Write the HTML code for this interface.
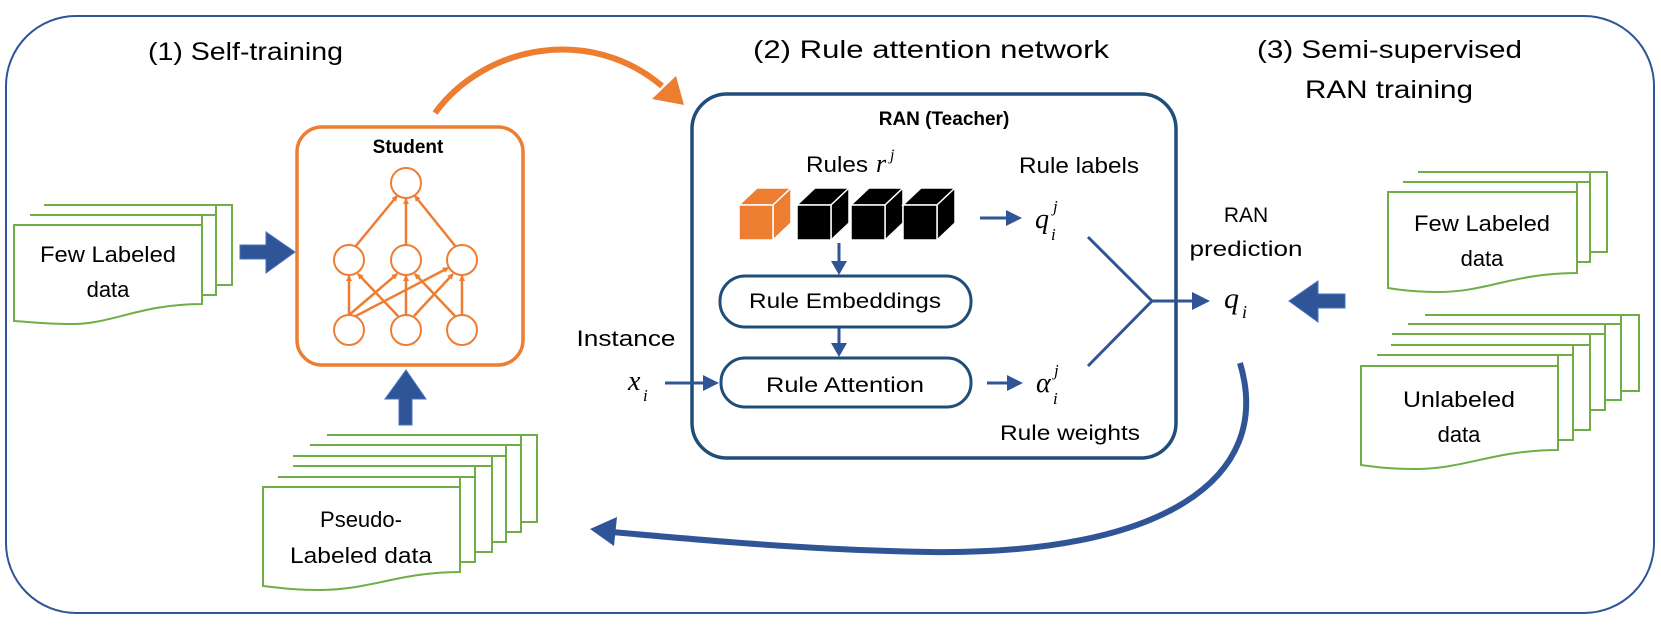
<!DOCTYPE html>
<html><head><meta charset="utf-8"><style>html,body{margin:0;padding:0;background:#fff}svg{display:block}text{font-family:"Liberation Sans",sans-serif;fill:#000}.m{font-family:"Liberation Serif",serif;font-style:italic}</style></head><body>
<svg width="1661" height="626" viewBox="0 0 1661 626" xmlns="http://www.w3.org/2000/svg">
<defs>
<marker id="oa" markerWidth="6" markerHeight="6" refX="5" refY="3" orient="auto" markerUnits="userSpaceOnUse"><path d="M0,0 L6,3 L0,6z" fill="#ed7d31"/></marker>
</defs>
<rect x="6" y="16" width="1648" height="597" rx="70" fill="none" stroke="#2f5597" stroke-width="2"/>
<text x="148" y="60" font-size="25" textLength="195" lengthAdjust="spacingAndGlyphs">(1) Self-training</text>
<text x="753" y="58" font-size="25" textLength="356" lengthAdjust="spacingAndGlyphs">(2) Rule attention network</text>
<text x="1257" y="58" font-size="25" textLength="265" lengthAdjust="spacingAndGlyphs">(3) Semi-supervised</text>
<text x="1305" y="98" font-size="25" textLength="168" lengthAdjust="spacingAndGlyphs">RAN training</text>

<!-- left few labeled -->
<g fill="#fff" stroke="#70ad47" stroke-width="2">
<path d="M44,205 H232 V285 H216 V205z"/>
<path d="M30,215 H216 V295 H202 V215z"/>
<path d="M14,225 H202 V304 C140,304 110,325 70,324 C45,324 30,322 14,321z"/>
</g>
<text x="108" y="262" font-size="22" text-anchor="middle" textLength="136" lengthAdjust="spacingAndGlyphs">Few Labeled</text>
<text x="108" y="297" font-size="22" text-anchor="middle">data</text>
<path d="M240,245 H266 V232 L295,252 L266,273 V259 H240z" fill="#2f5597" stroke="#4472c4" stroke-width="1"/>

<!-- student -->
<rect x="297" y="127" width="226" height="238" rx="25" fill="none" stroke="#ed7d31" stroke-width="3.5"/>
<text x="408" y="153" font-size="19" font-weight="bold" text-anchor="middle">Student</text>
<g stroke="#ed7d31" stroke-width="2.5" marker-end="url(#oa)">
<line x1="355" y1="247" x2="397" y2="196"/>
<line x1="406" y1="245" x2="406" y2="199"/>
<line x1="456" y1="247" x2="415" y2="196"/>
<line x1="349" y1="315" x2="349" y2="276"/>
<line x1="349" y1="315" x2="397" y2="274"/>
<line x1="352" y1="318" x2="448" y2="268"/>
<line x1="398" y1="316" x2="358" y2="274"/>
<line x1="406" y1="315" x2="406" y2="276"/>
<line x1="414" y1="316" x2="453" y2="274"/>
<line x1="455" y1="316" x2="415" y2="274"/>
<line x1="462" y1="315" x2="462" y2="276"/>
</g>
<g fill="#fff" stroke="#ed7d31" stroke-width="2">
<circle cx="406" cy="183" r="15"/>
<circle cx="349" cy="260" r="15"/><circle cx="406" cy="260" r="15"/><circle cx="462" cy="260" r="15"/>
<circle cx="349" cy="330" r="15"/><circle cx="406" cy="330" r="15"/><circle cx="462" cy="330" r="15"/>
</g>
<path d="M399,425 V399 H385 L406,370 L426,399 H412 V425z" fill="#2f5597" stroke="#4472c4" stroke-width="1"/>

<!-- pseudo stack -->
<g fill="#fff" stroke="#70ad47" stroke-width="2">
<path d="M327,435 H537 V522 H521 V435z"/>
<path d="M310,445 H521 V532 H506 V445z"/>
<path d="M293,456 H506 V542 H492 V456z"/>
<path d="M293,466 H492 V552 H475 V466z"/>
<path d="M278,477 H475 V562 H460 V477z"/>
<path d="M263,487 H460 V572 C400,572 370,590 320,590 C295,590 280,588 263,586z"/>
</g>
<text x="361" y="527" font-size="22" text-anchor="middle">Pseudo-</text>
<text x="361" y="563" font-size="22" text-anchor="middle" textLength="142" lengthAdjust="spacingAndGlyphs">Labeled data</text>

<!-- orange curve -->
<path d="M435,113 C485,45 590,25 662,86" fill="none" stroke="#ed7d31" stroke-width="6"/>
<path d="M684,105 L652,99 L676,76z" fill="#ed7d31"/>

<!-- RAN box -->
<rect x="692" y="94" width="484" height="364" rx="35" fill="none" stroke="#1f4e79" stroke-width="3.5"/>
<text x="944" y="125" font-size="19" font-weight="bold" text-anchor="middle">RAN (Teacher)</text>
<text x="806" y="172" font-size="22" textLength="62" lengthAdjust="spacingAndGlyphs">Rules</text>
<text x="876" y="172" font-size="26" class="m">r</text><text x="890" y="160" font-size="16" class="m">j</text>
<text x="1019" y="173" font-size="22" textLength="120" lengthAdjust="spacingAndGlyphs">Rule labels</text>
<!-- cubes -->
<g stroke="#fff" stroke-width="1.5">
<g fill="#ed7d31"><path d="M739,205 L757,188 H791 L773,205z"/><path d="M773,205 L791,188 V223 L773,240z"/><rect x="739" y="205" width="34" height="35"/></g>
<g fill="#000"><path d="M797,205 L815,188 H849 L831,205z"/><path d="M831,205 L849,188 V223 L831,240z"/><rect x="797" y="205" width="34" height="35"/></g>
<g fill="#000"><path d="M851,205 L869,188 H903 L885,205z"/><path d="M885,205 L903,188 V223 L885,240z"/><rect x="851" y="205" width="34" height="35"/></g>
<g fill="#000"><path d="M903,205 L921,188 H955 L937,205z"/><path d="M937,205 L955,188 V223 L937,240z"/><rect x="903" y="205" width="34" height="35"/></g>
</g>
<g stroke="#2f5597" stroke-width="3" fill="#2f5597">
<line x1="980" y1="218" x2="1008" y2="218"/><path d="M1022,218 L1006,210 V226z" stroke="none"/>
<line x1="839" y1="243" x2="839" y2="262"/><path d="M839,275 L831,261 H847z" stroke="none"/>
<line x1="839" y1="327" x2="839" y2="344"/><path d="M839,357 L831,343 H847z" stroke="none"/>
<line x1="665" y1="383" x2="705" y2="383"/><path d="M719,383 L703,375 V391z" stroke="none"/>
<line x1="987" y1="383" x2="1009" y2="383"/><path d="M1023,383 L1007,375 V391z" stroke="none"/>
</g>
<rect x="720" y="276" width="251" height="51" rx="25" fill="#fff" stroke="#1f4e79" stroke-width="3"/>
<text x="845" y="308" font-size="21" text-anchor="middle" textLength="192" lengthAdjust="spacingAndGlyphs">Rule Embeddings</text>
<rect x="721" y="358" width="250" height="49" rx="24" fill="#fff" stroke="#1f4e79" stroke-width="3"/>
<text x="845" y="392" font-size="21" text-anchor="middle" textLength="158" lengthAdjust="spacingAndGlyphs">Rule Attention</text>
<text x="1035" y="228" font-size="28" class="m">q</text><text x="1051" y="240" font-size="17" class="m">i</text><text x="1053" y="212" font-size="17" class="m">j</text>
<text x="1036" y="392" font-size="28" class="m">α</text><text x="1053" y="404" font-size="17" class="m">i</text><text x="1054" y="376" font-size="17" class="m">j</text>
<text x="626" y="346" font-size="22" text-anchor="middle" textLength="99" lengthAdjust="spacingAndGlyphs">Instance</text>
<text x="628" y="390" font-size="28" class="m">x</text><text x="643" y="401" font-size="17" class="m">i</text>
<text x="1070" y="440" font-size="21" text-anchor="middle" textLength="140" lengthAdjust="spacingAndGlyphs">Rule weights</text>

<!-- merge lines -->
<g stroke="#2f5597" stroke-width="3" fill="none">
<polyline points="1088,237 1152,301 1088,366"/>
<line x1="1152" y1="301" x2="1196" y2="301"/>
</g>
<path d="M1210,301 L1192,292 V310z" fill="#2f5597"/>
<text x="1246" y="222" font-size="21" text-anchor="middle">RAN</text>
<text x="1246" y="256" font-size="21" text-anchor="middle" textLength="113" lengthAdjust="spacingAndGlyphs">prediction</text>
<text x="1224" y="308" font-size="30" class="m">q</text><text x="1242" y="318" font-size="18" class="m">i</text>
<path d="M1345,294 H1318 V281 L1289,301 L1318,322 V308 H1345z" fill="#2f5597" stroke="#4472c4" stroke-width="1"/>

<!-- return curve -->
<path d="M1240,363 C1275,480 1160,555 930,552 C810,550 700,540 612,532" fill="none" stroke="#2f5597" stroke-width="6"/>
<path d="M590,529 L617,517 L614,546z" fill="#2f5597"/>

<!-- right few labeled -->
<g fill="#fff" stroke="#70ad47" stroke-width="2">
<path d="M1418,172 H1607 V252 H1590 V172z"/>
<path d="M1403,182 H1590 V262 H1577 V182z"/>
<path d="M1388,192 H1577 V273 C1515,273 1485,292 1440,292 C1415,292 1400,290 1388,288z"/>
</g>
<text x="1482" y="231" font-size="22" text-anchor="middle" textLength="136" lengthAdjust="spacingAndGlyphs">Few Labeled</text>
<text x="1482" y="266" font-size="22" text-anchor="middle">data</text>

<!-- unlabeled -->
<g fill="#fff" stroke="#70ad47" stroke-width="2">
<path d="M1425,315 H1639 V391 H1621 V315z"/>
<path d="M1408,324 H1621 V400 H1605 V324z"/>
<path d="M1392,334 H1605 V410 H1590 V334z"/>
<path d="M1391,345 H1590 V430 H1573 V345z"/>
<path d="M1377,355 H1573 V440 H1558 V355z"/>
<path d="M1361,366 H1558 V450 C1495,450 1465,469 1415,469 C1390,469 1375,467 1361,465z"/>
</g>
<text x="1459" y="407" font-size="22" text-anchor="middle" textLength="112" lengthAdjust="spacingAndGlyphs">Unlabeled</text>
<text x="1459" y="442" font-size="22" text-anchor="middle">data</text>
</svg>
</body></html>
